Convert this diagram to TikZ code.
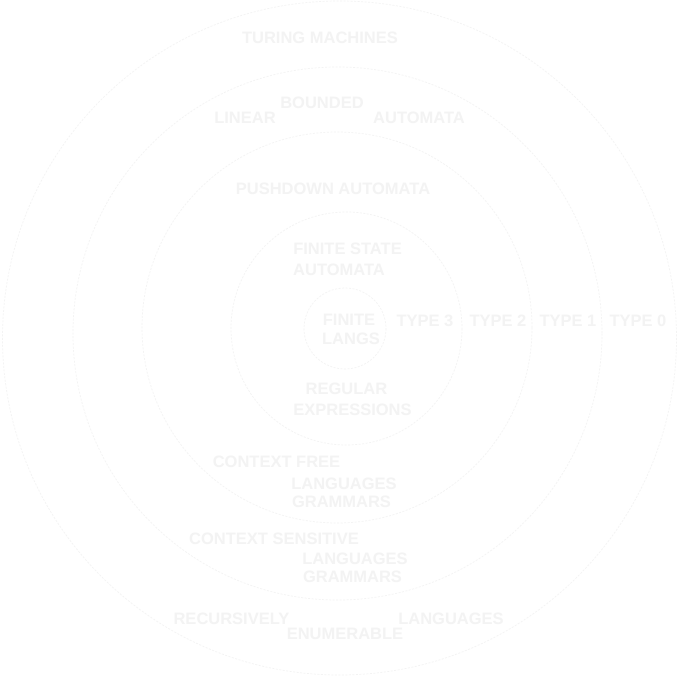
\documentclass[tikz,border=0pt]{standalone}
\usepackage{fontspec}
\setmainfont{Liberation Sans}
\definecolor{txtc}{RGB}{243,243,243}
\definecolor{ringc}{RGB}{243,243,243}
\begin{document}
\begin{tikzpicture}[x=1pt,y=-1pt,
  lbl/.style={text=txtc,font=\bfseries\fontsize{16.5}{17}\selectfont,inner sep=0pt,anchor=center},
  ring/.style={draw=ringc,line width=0.7pt,dash pattern=on 2pt off 1.5pt}]
\useasboundingbox[fill=white] (0,0) rectangle (677,677);
% rings
\draw[ring] (339.5,338) ellipse[x radius=337,y radius=337];
\draw[ring] (337.5,333.5) ellipse[x radius=264.5,y radius=266.5];
\draw[ring] (337,327.5) ellipse[x radius=195,y radius=195.5];
\draw[ring] (346.5,328.5) ellipse[x radius=115.5,y radius=116.5];
\draw[ring] (345,328.5) ellipse[x radius=41,y radius=40.5];
% labels
\node[lbl] (tm) at (320,37.5) {TURING MACHINES};
\node[lbl] (lb2) at (322,102.5) {BOUNDED};
\node[lbl] (lb1) at (245,117.5) {LINEAR};
\node[lbl] (lb3) at (419,117.5) {AUTOMATA};
\node[lbl] (pda) at (333,188.5) {PUSHDOWN AUTOMATA};
\node[lbl] (fsa1) at (347.5,248.5) {FINITE STATE};
\node[lbl] (fsa2) at (339,270) {AUTOMATA};
\node[lbl] (fl1) at (349,319.5) {FINITE};
\node[lbl] (fl2) at (351,338.5) {LANGS};
\node[lbl] (t3) at (425,321) {TYPE 3};
\node[lbl] (t2) at (498,321) {TYPE 2};
\node[lbl] (t1) at (568,321) {TYPE 1};
\node[lbl] (t0) at (638,321) {TYPE 0};
\node[lbl] (re1) at (346.5,388.5) {REGULAR};
\node[lbl] (re2) at (352.5,410) {EXPRESSIONS};
\node[lbl] (cf1) at (276.5,461.5) {CONTEXT FREE};
\node[lbl] (cf2) at (344,483.5) {LANGUAGES};
\node[lbl] (cf3) at (341.5,501.5) {GRAMMARS};
\node[lbl] (cs1) at (274,538.5) {CONTEXT SENSITIVE};
\node[lbl] (cs2) at (355,558.5) {LANGUAGES};
\node[lbl] (cs3) at (352.5,576.5) {GRAMMARS};
\node[lbl] (rl1) at (231.5,618.5) {RECURSIVELY};
\node[lbl] (rl3) at (451,618.5) {LANGUAGES};
\node[lbl] (rl2) at (345,634) {ENUMERABLE};
\end{tikzpicture}
\end{document}
